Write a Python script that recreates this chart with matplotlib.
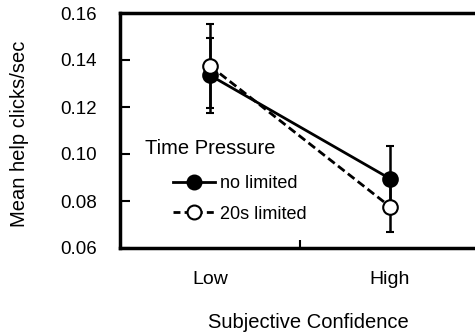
import matplotlib
matplotlib.use("Agg")
import matplotlib.pyplot as plt
from matplotlib.lines import Line2D
import numpy as np

plt.rcParams['font.family'] = ['Liberation Sans', 'DejaVu Sans']

categories = ["Low", "High"]
no_limited = [0.1335, 0.0895]
no_limited_err = [0.0160, 0.0140]
limited_20s = [0.1375, 0.0776]
limited_20s_err = [0.0180, 0.0110]
yticks = [0.06, 0.08, 0.10, 0.12, 0.14, 0.16]

W, H = 475, 335
fig = plt.figure(figsize=(W/100, H/100), dpi=100)
ax = fig.add_axes([120/W, 87/H, 360/W, 235/H])

x = np.arange(len(categories)) + 0.5
ax.errorbar(x, no_limited, yerr=no_limited_err, color='black', lw=2,
            marker='o', ms=10.5, mfc='black', mec='black', mew=1.5,
            capsize=3, elinewidth=1.8, capthick=1.5, ls='-', zorder=3)
ax.errorbar(x, limited_20s, yerr=limited_20s_err, color='black', lw=2,
            marker='o', ms=10.5, mfc='white', mec='black', mew=1.5,
            capsize=3, elinewidth=1.8, capthick=1.5, ls=(0, (3, 1.5)), zorder=4)

ax.set_xlim(0, 2)
ax.set_ylim(0.06, 0.16)
ax.set_yticks(yticks)
ax.set_yticklabels([f"{v:.2f}" for v in yticks], fontsize=13.5)
ax.set_xticks([1.0])
ax.set_xticklabels([""])
ax.tick_params(axis='y', direction='in', length=7, width=1.5, pad=16.5)
ax.tick_params(axis='x', direction='in', length=6, width=1.5)
for i, c in enumerate(categories):
    ax.text(x[i], -31/235, c, transform=ax.get_xaxis_transform(), ha='center', va='center', fontsize=14)

ax.spines['right'].set_visible(False)
for s in ['left', 'top', 'bottom']:
    ax.spines[s].set_linewidth(2.5)

fig.text(20/W, 1 - 134/H, "Mean help clicks/sec", rotation=90, ha='center', va='center', fontsize=14.5)
fig.text(308/W, 1 - 322/H, "Subjective Confidence", ha='center', va='center', fontsize=14.5)

# legend: title + entries
ax.text((145-120)/360, (248-148)/235, "Time Pressure", transform=ax.transAxes,
        ha='left', va='center', fontsize=14.5)
handles = [
    Line2D([], [], color='black', lw=2, ls='-', marker='o', ms=10, mfc='black', mec='black', mew=1.5),
    Line2D([], [], color='black', lw=2, ls=(0, (2.5, 1.5)), marker='o', ms=10, mfc='white', mec='black', mew=1.5),
]
leg = ax.legend(handles, ["no limited", "20s limited"], loc='upper left',
                bbox_to_anchor=((173-120)/360, (248-175)/235), frameon=False,
                fontsize=13, handlelength=2.33, handletextpad=0.28, labelspacing=0.75,
                borderpad=0, borderaxespad=0)

fig.savefig("out.png", dpi=100)
